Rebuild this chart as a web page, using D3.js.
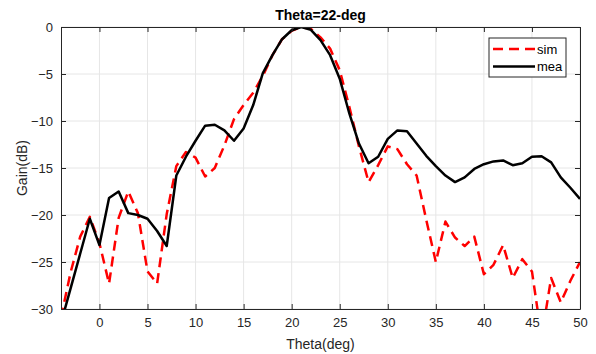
<!DOCTYPE html>
<html>
<head>
<meta charset="utf-8">
<script src="https://cdn.jsdelivr.net/npm/d3@7"></script>
<style>
  html, body { margin: 0; padding: 0; background: #fff; }
  svg { display: block; font-family: "Liberation Sans", Arial, Helvetica, sans-serif; }
</style>
</head>
<body>
<svg id="chart" width="596" height="354"></svg>
<script>
// Simulated gain pattern (dB) versus theta (deg)
const simTheta = [-4, -3, -2, -1, 0, 1, 2, 3, 4, 5, 6, 7, 8, 9, 10, 11, 12, 13, 14, 15, 16, 17, 18, 19, 20, 21, 22, 23, 24, 25, 26, 27, 28, 29, 30, 31, 32, 33, 34, 35, 36, 37, 38, 39, 40, 41, 42, 43, 44, 45, 46, 47, 48, 49, 50];
const simGain = [-30.9, -26.1, -22.3, -20.2, -23.0, -27.3, -20.3, -17.5, -19.8, -26.0, -27.3, -19.9, -14.8, -13.3, -13.9, -15.9, -15.0, -12.6, -9.8, -8.3, -7.0, -5.2, -3.0, -1.3, -0.4, 0.0, -0.2, -1.1, -2.3, -4.6, -8.5, -12.7, -16.5, -14.7, -12.7, -13.0, -14.6, -15.8, -20.5, -25.0, -20.7, -22.4, -23.3, -22.3, -26.3, -25.3, -23.2, -26.7, -24.7, -26.0, -33.0, -26.7, -29.3, -27.0, -25.0];

// Measured gain pattern (dB) versus theta (deg)
const meaTheta = [-4, -3, -2, -1, 0, 1, 2, 3, 4, 5, 6, 7, 8, 9, 10, 11, 12, 13, 14, 15, 16, 17, 18, 19, 20, 21, 22, 23, 24, 25, 26, 27, 28, 29, 30, 31, 32, 33, 34, 35, 36, 37, 38, 39, 40, 41, 42, 43, 44, 45, 46, 47, 48, 49, 50];
const meaGain = [-31.5, -27.8, -24.1, -20.4, -23.2, -18.2, -17.5, -19.8, -20.0, -20.4, -21.7, -23.3, -15.8, -13.8, -12.1, -10.5, -10.4, -11.0, -12.1, -10.8, -8.3, -4.9, -3.0, -1.3, -0.35, 0.0, -0.3, -1.4, -3.0, -5.5, -9.2, -12.4, -14.5, -13.8, -11.9, -11.0, -11.1, -12.4, -13.7, -14.8, -15.8, -16.5, -16.0, -15.1, -14.6, -14.3, -14.2, -14.7, -14.5, -13.8, -13.75, -14.4, -16.0, -17.1, -18.3];

const xTicks = [0, 5, 10, 15, 20, 25, 30, 35, 40, 45, 50];
const yTicks = [0, -5, -10, -15, -20, -25, -30];

const seriesNames = ["sim", "mea"];
const seriesColors = ["#ff0000", "#000000"];

const W = 596, H = 354;
const margin = { left: 61, right: 16, top: 27, bottom: 45 };
const iw = W - margin.left - margin.right;
const ih = H - margin.top - margin.bottom;

const svg = d3.select("#chart");
const axisColor = "#262626";

const x = d3.scaleLinear().domain([-4, 50]).range([0, iw]);
const y = d3.scaleLinear().domain([-30, 0]).range([ih, 0]);

const g = svg.append("g").attr("transform", `translate(${margin.left},${margin.top})`);

// grid
g.append("g").selectAll("line").data(xTicks).join("line")
  .attr("x1", d => x(d)).attr("x2", d => x(d)).attr("y1", 0).attr("y2", ih)
  .attr("stroke", "#e6e6e6").attr("stroke-width", 1);
g.append("g").selectAll("line").data(yTicks).join("line")
  .attr("x1", 0).attr("x2", iw).attr("y1", d => y(d)).attr("y2", d => y(d))
  .attr("stroke", "#e6e6e6").attr("stroke-width", 1);

// clip to plot area
svg.append("defs").append("clipPath").attr("id", "plotClip")
  .append("rect").attr("x", 0).attr("y", 0).attr("width", iw).attr("height", ih);

const line = d3.line().x(d => x(d[0])).y(d => y(d[1]));
const simData = simTheta.map((t, i) => [t, simGain[i]]);
const meaData = meaTheta.map((t, i) => [t, meaGain[i]]);

const plot = g.append("g").attr("clip-path", "url(#plotClip)");
plot.append("path").datum(simData).attr("d", line)
  .attr("fill", "none").attr("stroke", seriesColors[0]).attr("stroke-width", 2.5)
  .attr("stroke-dasharray", "10,6").attr("stroke-linejoin", "round");
plot.append("path").datum(meaData).attr("d", line)
  .attr("fill", "none").attr("stroke", seriesColors[1]).attr("stroke-width", 2.5)
  .attr("stroke-linejoin", "round");

// axes (ticks pointing inward, box on all sides)
const tickLen = 5;
const xAxisB = d3.axisBottom(x).tickValues(xTicks).tickSizeInner(-tickLen).tickSizeOuter(0).tickPadding(9);
const yAxisL = d3.axisLeft(y).tickValues(yTicks).tickSizeInner(-tickLen).tickSizeOuter(0).tickPadding(8);
const xAxisT = d3.axisTop(x).tickValues(xTicks).tickSizeInner(-tickLen).tickSizeOuter(0).tickFormat("");
const yAxisR = d3.axisRight(y).tickValues(yTicks).tickSizeInner(-tickLen).tickSizeOuter(0).tickFormat("");

function styleAxis(sel) {
  sel.select(".domain").attr("stroke", axisColor).attr("stroke-width", 1);
  sel.selectAll(".tick line").attr("stroke", axisColor).attr("stroke-width", 1);
  sel.selectAll(".tick text").attr("fill", axisColor).style("font-size", "13px");
}
g.append("g").attr("transform", `translate(0,${ih})`).call(xAxisB).call(styleAxis);
g.append("g").call(yAxisL).call(styleAxis);
g.append("g").call(xAxisT).call(styleAxis);
g.append("g").attr("transform", `translate(${iw},0)`).call(yAxisR).call(styleAxis);

// title and axis labels
svg.append("text").attr("x", margin.left + iw / 2).attr("y", 20)
  .attr("text-anchor", "middle").style("font-size", "14px").style("font-weight", "bold")
  .attr("fill", "#000").text("Theta=22-deg");
svg.append("text").attr("x", margin.left + iw / 2).attr("y", 349)
  .attr("text-anchor", "middle").style("font-size", "14px").attr("fill", axisColor)
  .text("Theta(deg)");
svg.append("text").attr("transform", `translate(27,${margin.top + ih / 2}) rotate(-90)`)
  .attr("text-anchor", "middle").style("font-size", "14px").attr("fill", axisColor)
  .text("Gain(dB)");

// legend
const lg = svg.append("g").attr("transform", "translate(489,38)");
lg.append("rect").attr("x", 0).attr("y", 0).attr("width", 77).attr("height", 39)
  .attr("fill", "#fff").attr("stroke", axisColor).attr("stroke-width", 1);
seriesNames.forEach((name, i) => {
  const yy = 11 + i * 17.5;
  lg.append("line").attr("x1", 4).attr("x2", 46).attr("y1", yy).attr("y2", yy)
    .attr("stroke", seriesColors[i]).attr("stroke-width", 2.5)
    .attr("stroke-dasharray", i === 0 ? "10,6" : null);
  lg.append("text").attr("x", 48).attr("y", yy + 4.5).style("font-size", "13px")
    .attr("fill", "#000").text(name);
});
</script>
</body>
</html>
